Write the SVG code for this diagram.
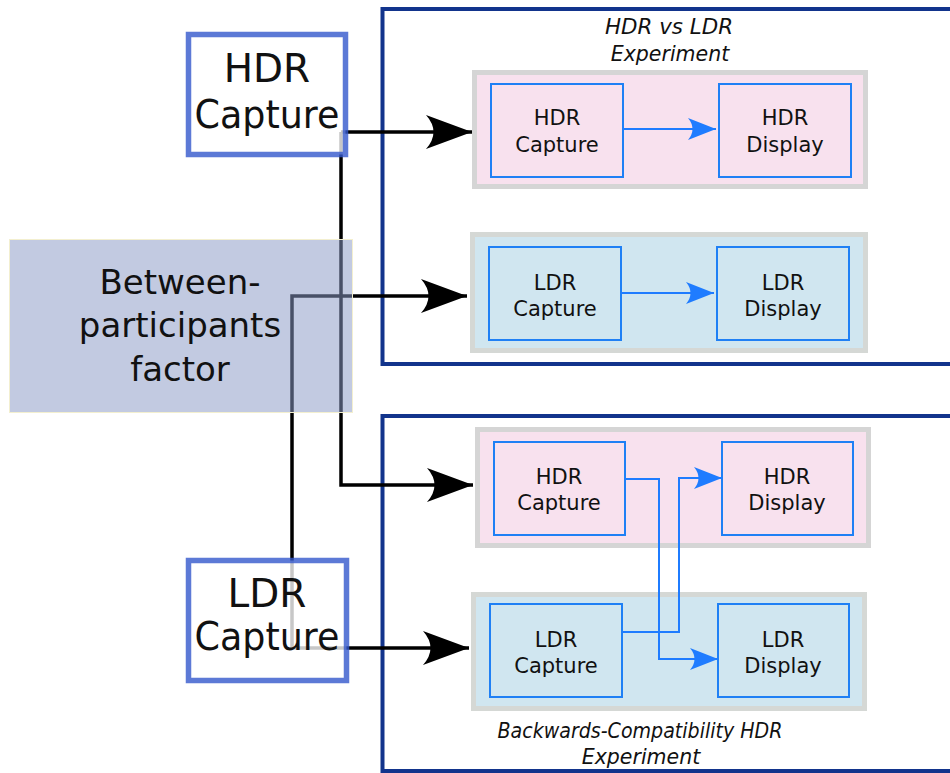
<svg xmlns="http://www.w3.org/2000/svg" width="950" height="773" viewBox="0 0 950 773">
<style>
text{font-family:"DejaVu Sans","Liberation Sans",sans-serif;fill:#111;text-anchor:middle}
.big{font-size:39px}
.mid{font-size:34px}
.sm{font-size:21px}
.ttl{font-size:20.5px;font-style:italic}
.frame{fill:none;stroke:#12348c;stroke-width:4}
.grpP{fill:#f8e1ee;stroke:#d5d5d5;stroke-width:5}
.grpB{fill:#d0e6f0;stroke:#d5d8d5;stroke-width:5}
.inner{fill:none;stroke:#1f80f5;stroke-width:2}
.blk{fill:none;stroke:#000;stroke-width:3.5}
.blu{fill:none;stroke:#1f7cff;stroke-width:2}
.cap{fill:#fff;fill-opacity:0.78;stroke:#3358cc;stroke-opacity:0.8;stroke-width:5.5}
</style>
<defs>
<marker id="ab" markerUnits="userSpaceOnUse" markerWidth="60" markerHeight="40" viewBox="-50 -20 52 40" refX="0" refY="0" orient="auto">
<path d="M0,0 L-46,-17 Q-31,0 -46,17 Z" fill="#000"/>
</marker>
<marker id="au" markerUnits="userSpaceOnUse" markerWidth="32" markerHeight="26" viewBox="-30 -13 32 26" refX="0" refY="0" orient="auto">
<path d="M0,0 L-28,-11 Q-19,0 -28,11 Z" fill="#1f7cff"/>
</marker>
</defs>

<g id="frames">
<path class="frame" d="M960,9 H382.5 V364 H960"/>
<path class="frame" d="M960,416 H382.5 V771 H960"/>
<text class="ttl" x="669" y="34" textLength="128" lengthAdjust="spacingAndGlyphs">HDR vs LDR</text>
<text class="ttl" x="670" y="61">Experiment</text>
<text class="ttl" x="640" y="738" textLength="285" lengthAdjust="spacingAndGlyphs">Backwards-Compatibility HDR</text>
<text class="ttl" x="641" y="764">Experiment</text>
</g>

<g id="group-hdr-top">
<rect class="grpP" x="474.5" y="72.5" width="391" height="114"/>
<g id="n1-hdr-capture"><rect class="inner" x="491" y="84" width="132" height="93"/><text class="sm" x="557" y="125">HDR</text><text class="sm" x="557" y="152">Capture</text></g>
<g id="n1-hdr-display"><rect class="inner" x="719" y="84" width="132" height="93"/><text class="sm" x="785" y="125">HDR</text><text class="sm" x="785" y="152">Display</text></g>
</g>

<g id="group-ldr-top">
<rect class="grpB" x="472.5" y="234.5" width="393" height="116"/>
<g id="n2-ldr-capture"><rect class="inner" x="489" y="247" width="132" height="93"/><text class="sm" x="555" y="290">LDR</text><text class="sm" x="555" y="316">Capture</text></g>
<g id="n2-ldr-display"><rect class="inner" x="717" y="247" width="132" height="93"/><text class="sm" x="783" y="290">LDR</text><text class="sm" x="783" y="316">Display</text></g>
</g>

<g id="group-hdr-bottom">
<rect class="grpP" x="477.5" y="429.5" width="391" height="116"/>
<g id="n3-hdr-capture"><rect class="inner" x="494" y="442" width="131" height="93"/><text class="sm" x="559" y="484">HDR</text><text class="sm" x="559" y="510">Capture</text></g>
<g id="n3-hdr-display"><rect class="inner" x="722" y="442" width="131" height="93"/><text class="sm" x="787" y="484">HDR</text><text class="sm" x="787" y="510">Display</text></g>
</g>

<g id="group-ldr-bottom">
<rect class="grpB" x="473.5" y="594.5" width="391" height="114"/>
<g id="n4-ldr-capture"><rect class="inner" x="490" y="604" width="132" height="93"/><text class="sm" x="556" y="647">LDR</text><text class="sm" x="556" y="673">Capture</text></g>
<g id="n4-ldr-display"><rect class="inner" x="718" y="604" width="131" height="93"/><text class="sm" x="783" y="647">LDR</text><text class="sm" x="783" y="673">Display</text></g>
</g>

<g id="connectors">
<path class="blk" d="M341,132 H472" marker-end="url(#ab)"/>
<path class="blk" d="M341,132 V485 H473" marker-end="url(#ab)"/>
<path class="blk" d="M292,648 V296 H467" marker-end="url(#ab)"/>
<path class="blk" d="M292,648 H469" marker-end="url(#ab)"/>
<path class="blu" d="M623,129 H716" marker-end="url(#au)"/>
<path class="blu" d="M621,293 H714" marker-end="url(#au)"/>
<path class="blu" d="M625,479 H659 V659 H718" marker-end="url(#au)"/>
<path class="blu" d="M622,632 H679 V478 H722" marker-end="url(#au)"/>
</g>

<g id="between-factor">
<rect x="9.5" y="239.5" width="343" height="173" fill="#8a99c5" fill-opacity="0.52" stroke="#f3efcf" stroke-width="1"/>
<text class="mid" x="180" y="294">Between-</text>
<text class="mid" x="180" y="337">participants</text>
<text class="mid" x="180" y="381">factor</text>
</g>

<g id="hdr-capture">
<rect class="cap" x="188.5" y="34.5" width="157" height="120"/>
<text class="big" x="267" y="82">HDR</text>
<text class="big" x="267" y="128" textLength="145" lengthAdjust="spacingAndGlyphs">Capture</text>
</g>

<g id="ldr-capture">
<rect class="cap" x="188.5" y="560.5" width="158" height="120"/>
<text class="big" x="267" y="607">LDR</text>
<text class="big" x="267" y="650" textLength="145" lengthAdjust="spacingAndGlyphs">Capture</text>
</g>
</svg>
